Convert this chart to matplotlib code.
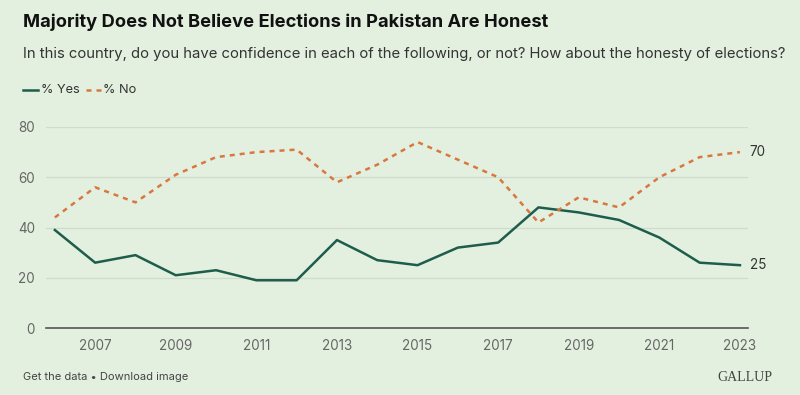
import matplotlib.pyplot as plt

# data
years = list(range(2006, 2024))
pct_yes = [39, 26, 29, 21, 23, 19, 19, 35, 27, 25, 32, 34, 48, 46, 43, 36, 26, 25]
pct_no = [44, 56, 50, 61, 68, 70, 71, 58, 65, 74, 67, 60, 42, 52, 48, 60, 68, 70]
year_ticks = [2007, 2009, 2011, 2013, 2015, 2017, 2019, 2021, 2023]
y_ticks = [0, 20, 40, 60, 80]

BG = '#e3f0df'
YES_C = '#1e5d4c'
NO_C = '#d8773f'

plt.rcParams['font.family'] = ['Inter', 'DejaVu Sans']

fig = plt.figure(figsize=(8, 3.95), dpi=100, facecolor=BG)
ax = fig.add_axes([0.0575, 0.1696, 0.8775, 0.5089])
ax.set_facecolor(BG)

ax.plot(years, pct_yes, color=YES_C, lw=1.8, solid_joinstyle='round')
ax.plot(years, pct_no, color=NO_C, lw=1.8, ls=(0, (2, 2)))

ax.set_xlim(2006 - 0.22, 2023 + 0.2)
ax.set_ylim(0, 80)
ax.set_xticks(year_ticks)
ax.set_yticks(y_ticks)
ax.grid(axis='y', color='#cfdccd', lw=0.9)
ax.set_axisbelow(True)
for s in ['top', 'right', 'left']:
    ax.spines[s].set_visible(False)
ax.spines['bottom'].set_color('#555555')
ax.spines['bottom'].set_linewidth(1.2)
ax.tick_params(length=0, labelsize=9.7, labelcolor='#666666', pad=8)
ax.tick_params(axis='y', pad=8)

# end labels
ax.annotate(str(pct_no[-1]), (years[-1], pct_no[-1]), xytext=(7, 0),
            textcoords='offset points', va='center', fontsize=9.7, color='#333333')
ax.annotate(str(pct_yes[-1]), (years[-1], pct_yes[-1]), xytext=(7, 0),
            textcoords='offset points', va='center', fontsize=9.7, color='#333333')

fig.text(0.029, 0.965, 'Majority Does Not Believe Elections in Pakistan Are Honest',
         fontsize=13.2, fontweight='bold', color='#111111', va='top')
fig.text(0.029, 0.88, 'In this country, do you have confidence in each of the following, or not? '
         'How about the honesty of elections?', fontsize=10.7, color='#333333', va='top')

# legend
fig.lines.append(plt.Line2D([0.029, 0.048], [0.772, 0.772], transform=fig.transFigure,
                            color=YES_C, lw=1.8))
fig.text(0.051, 0.772, '% Yes', fontsize=9.2, color='#333333', va='center')
fig.lines.append(plt.Line2D([0.107, 0.126], [0.772, 0.772], transform=fig.transFigure,
                            color=NO_C, lw=1.8, ls=(0, (2, 2))))
fig.text(0.129, 0.772, '% No', fontsize=9.2, color='#333333', va='center')

fig.text(0.029, 0.045, 'Get the data \u2022 Download image', fontsize=8,
         color='#444444', va='center')
fig.text(0.965, 0.045, 'GALLUP', fontsize=10, family='Liberation Serif',
         color='#444444', va='center', ha='right')

fig.savefig('out.png', dpi=100, facecolor=BG)
